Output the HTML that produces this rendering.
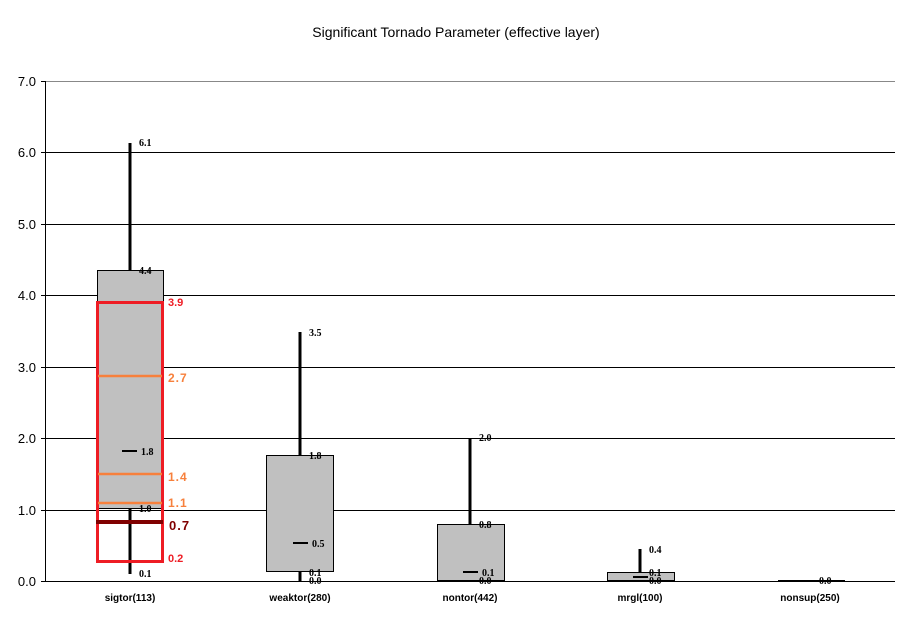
<!DOCTYPE html>
<html><head><style>
body{margin:0;background:#fff}
svg{display:block}
</style></head><body>
<svg width="911" height="623" viewBox="0 0 911 623" xmlns="http://www.w3.org/2000/svg" font-family="Liberation Sans, sans-serif">
<text x="456" y="37" text-anchor="middle" font-size="14">Significant Tornado Parameter (effective layer)</text>
<g stroke="#000" stroke-width="1">
<line x1="45" y1="81.5" x2="895" y2="81.5" stroke="#888"/>
<line x1="45" y1="152.5" x2="895" y2="152.5"/>
<line x1="45" y1="224.5" x2="895" y2="224.5"/>
<line x1="45" y1="295.5" x2="895" y2="295.5"/>
<line x1="45" y1="367.5" x2="895" y2="367.5"/>
<line x1="45" y1="438.5" x2="895" y2="438.5"/>
<line x1="45" y1="510.5" x2="895" y2="510.5"/>
<line x1="45" y1="581.5" x2="895" y2="581.5"/>
<line x1="45.5" y1="81" x2="45.5" y2="581"/>
<line x1="41" y1="81.5" x2="45" y2="81.5"/><line x1="41" y1="152.5" x2="45" y2="152.5"/><line x1="41" y1="224.5" x2="45" y2="224.5"/><line x1="41" y1="295.5" x2="45" y2="295.5"/><line x1="41" y1="367.5" x2="45" y2="367.5"/><line x1="41" y1="438.5" x2="45" y2="438.5"/><line x1="41" y1="510.5" x2="45" y2="510.5"/><line x1="41" y1="581.5" x2="45" y2="581.5"/>
</g>
<g font-size="13" text-anchor="end" fill="#000">
<text x="36" y="86">7.0</text><text x="36" y="157">6.0</text><text x="36" y="229">5.0</text><text x="36" y="300">4.0</text><text x="36" y="372">3.0</text><text x="36" y="443">2.0</text><text x="36" y="515">1.0</text><text x="36" y="586">0.0</text>
</g>
<!-- boxes -->
<g fill="#c0c0c0" stroke="#000" stroke-width="1">
<rect x="97.5" y="270.5" width="66" height="238"/>
<rect x="266.5" y="455.5" width="67" height="116"/>
<rect x="437.5" y="524.5" width="67" height="56"/>
<rect x="607.5" y="572.5" width="67" height="8"/>
<line x1="778" y1="580.5" x2="845" y2="580.5"/>
</g>
<g stroke="#000" stroke-width="3">
<line x1="130" y1="143" x2="130" y2="270"/><line x1="130" y1="509" x2="130" y2="574"/>
<line x1="300" y1="332" x2="300" y2="455"/><line x1="300" y1="572" x2="300" y2="581"/>
<line x1="470" y1="438" x2="470" y2="524"/>
<line x1="640" y1="549" x2="640" y2="572"/>
</g>
<g stroke="#000" stroke-width="2">
<line x1="122" y1="451" x2="137" y2="451"/>
<line x1="293" y1="543" x2="308" y2="543"/>
<line x1="463" y1="572" x2="478" y2="572"/>
<line x1="633" y1="577" x2="648" y2="577"/>
</g>
<!-- overlay -->
<rect x="97.5" y="302.5" width="65" height="259" fill="none" stroke="#ee1c24" stroke-width="3"/>
<g stroke="#f7803c" stroke-width="2.5">
<line x1="98" y1="376" x2="162" y2="376"/>
<line x1="98" y1="474" x2="162" y2="474"/>
<line x1="98" y1="503" x2="162" y2="503"/>
</g>
<line x1="96" y1="522" x2="163" y2="522" stroke="#800000" stroke-width="4"/>
<g font-size="10" font-weight="bold" font-family="Liberation Serif, serif">
<text x="139" y="146">6.1</text><text x="139" y="274">4.4</text><text x="141" y="455">1.8</text><text x="139" y="512">1.0</text><text x="139" y="577">0.1</text>
<text x="309" y="336">3.5</text><text x="309" y="459">1.8</text><text x="312" y="547">0.5</text><text x="309" y="576">0.1</text><text x="309" y="584">0.0</text>
<text x="479" y="441">2.0</text><text x="479" y="528">0.8</text><text x="482" y="576">0.1</text><text x="479" y="584">0.0</text>
<text x="649" y="553">0.4</text><text x="649" y="576">0.1</text><text x="649" y="584">0.0</text>
<text x="819" y="584">0.0</text>
</g>
<g font-size="12" font-weight="bold" letter-spacing="1">
<text x="168" y="306" fill="#ee1c24" font-size="11" letter-spacing="0">3.9</text>
<text x="168" y="382" fill="#f7803c">2.7</text>
<text x="168" y="481" fill="#f7803c">1.4</text>
<text x="168" y="507" fill="#f7803c">1.1</text>
<text x="169" y="530" fill="#800000" font-size="13">0.7</text>
<text x="168" y="562" fill="#ee1c24" font-size="11" letter-spacing="0">0.2</text>
</g>
<g font-size="10" font-weight="bold" text-anchor="middle">
<text x="130" y="601">sigtor(113)</text>
<text x="300" y="601">weaktor(280)</text>
<text x="470" y="601">nontor(442)</text>
<text x="640" y="601">mrgl(100)</text>
<text x="810" y="601">nonsup(250)</text>
</g>
</svg>
</body></html>
